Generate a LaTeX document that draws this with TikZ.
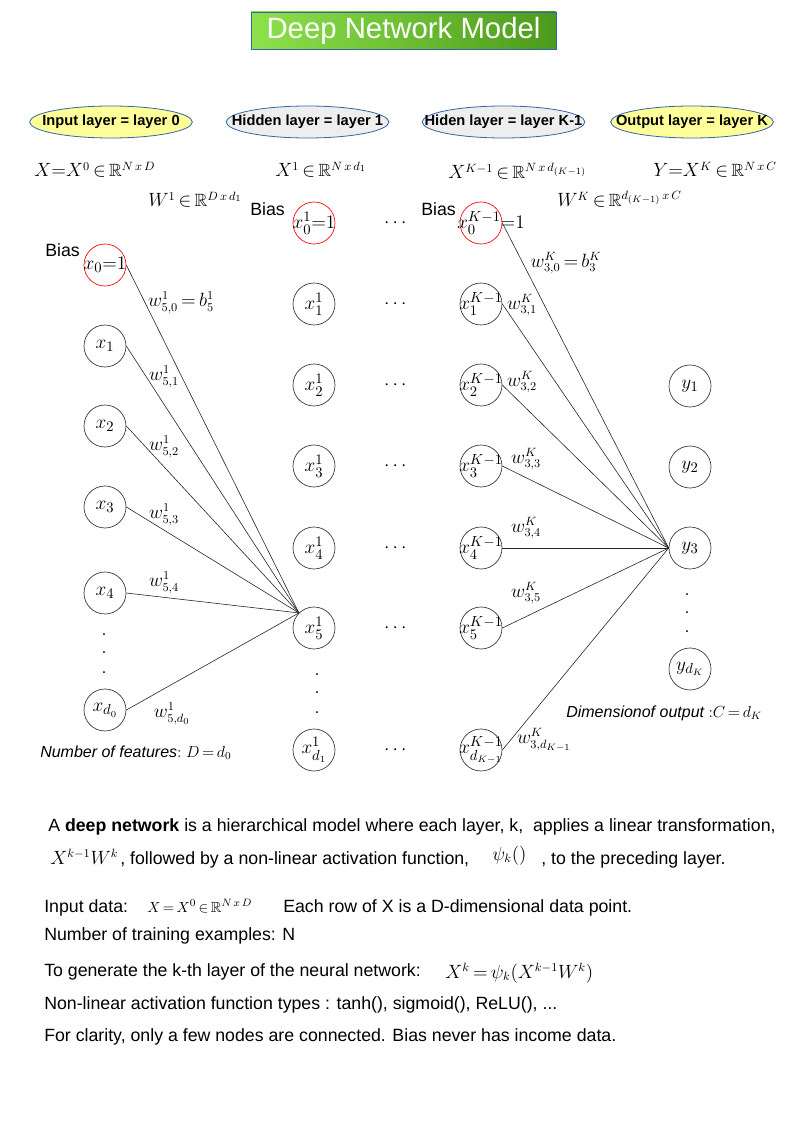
\documentclass[tikz,border=0pt]{standalone}
\usepackage{amsmath,amssymb}
\usepackage{fontspec}
\setmainfont{Liberation Sans}
\usetikzlibrary{shapes.geometric}
\definecolor{titleleft}{HTML}{8DE24B}
\definecolor{titleright}{HTML}{4C9A1C}
\definecolor{layerblue}{HTML}{3465A4}
\definecolor{layeryellow}{HTML}{FFFF99}
\definecolor{layergray}{HTML}{EEEEEE}
\begin{document}
\begin{tikzpicture}[
        x=0.75pt, y=-0.75pt,
        font=\fontsize{13.3}{16}\selectfont,
        titlebox/.style={rectangle, draw=layerblue, line width=0.6pt, left color=titleleft, right color=titleright, text=white, minimum width=228.75pt, minimum height=27.75pt, font=\fontsize{22}{26}\selectfont},
        layerbox/.style={ellipse, draw=layerblue, line width=0.6pt, minimum width=122pt, minimum height=24pt, inner sep=0pt, label={[font=\fontsize{11}{13}\selectfont\bfseries]center:{#1}}},
        inlayer/.style={layerbox={#1}, fill=layeryellow},
        hidlayer/.style={layerbox={#1}, fill=layergray},
        neuron/.style={circle, draw=black!80, line width=0.5pt, minimum size=31.5pt, inner sep=0pt},
        biasnode/.style={neuron, draw=red},
        lab/.style={label={[font=\fontsize{15}{18}\selectfont]center:{#1}}},
        link/.style={black!85, line width=0.45pt},
        formula/.style={anchor=base west, inner sep=0pt},
        weight/.style={inner sep=0pt},
        vdot/.style={inner sep=0pt, font=\fontsize{12}{14}\selectfont}
    ]
        \useasboundingbox (0,0) rectangle (794,1123);

        % Title
        \node[titlebox] (title) at (403.5,30.5) {Deep Network Model};

        % Layer names
        \node[inlayer={Input layer = layer 0}] (name_in) at (111,122) {};
        \node[hidlayer={Hidden layer = layer 1}] (name_h1) at (307.5,122) {};
        \node[hidlayer={Hiden layer = layer K-1}] (name_hk) at (503.5,122) {};
        \node[inlayer={Output layer = layer K}] (name_out) at (692,122) {};

        % Layer sizes and weight matrices
        \node[formula] (dim_in) at (34,177) {$X{=}X^0\,{\in}\,\mathbb{R}^{N\,x\,D}$};
        \node[formula] (dim_h1) at (275,177) {$X^1\,{\in}\,\mathbb{R}^{N\,x\,d_1}$};
        \node[formula] (dim_hk) at (448,179) {$X^{K-1}\,{\in}\,\mathbb{R}^{N\,x\,d_{(K-1)}}$};
        \node[formula] (dim_out) at (653,177) {$Y{=}X^K\,{\in}\,\mathbb{R}^{N\,x\,C}$};
        \node[formula] (dim_w1) at (148,207) {$W^1\,{\in}\,\mathbb{R}^{D\,x\,d_1}$};
        \node[formula] (dim_wk) at (557,207) {$W^K\,{\in}\,\mathbb{R}^{d_{(K-1)}\,x\,C}$};

        % Input layer
        \node[formula] (bias_in) at (45,257) {Bias};
        \node[biasnode, lab={$x_0{=}1$}] (in0) at (105,265) {};
        \node[neuron, lab={$x_1$}] (in1) at (105,346) {};
        \node[neuron, lab={$x_2$}] (in2) at (105,426) {};
        \node[neuron, lab={$x_3$}] (in3) at (105,507) {};
        \node[neuron, lab={$x_4$}] (in4) at (105,593) {};
        \node[vdot] (in_dot1) at (104,635) {.};
        \node[vdot] (in_dot2) at (104,653) {.};
        \node[vdot] (in_dot3) at (104,673) {.};
        \node[neuron, lab={$x_{d_0}$}] (ind) at (105,710) {};
        \node[formula] (features) at (40,757) {\fontsize{12}{14}\selectfont$\mathit{Number\ of\ features}{:}\ D\,{=}\,d_0$};

        % Hidden layer 1
        \node[formula] (bias_h1) at (250,216) {Bias};
        \node[biasnode, lab={$x^1_0{=}1$}] (h10) at (314,223) {};
        \node[neuron, lab={$x^1_1$}] (h11) at (314,304) {};
        \node[neuron, lab={$x^1_2$}] (h12) at (314,385) {};
        \node[neuron, lab={$x^1_3$}] (h13) at (314,466) {};
        \node[neuron, lab={$x^1_4$}] (h14) at (314,548) {};
        \node[neuron, lab={$x^1_5$}] (h15) at (314,628) {};
        \node[vdot] (h1_dot1) at (317,675) {.};
        \node[vdot] (h1_dot2) at (317,693) {.};
        \node[vdot] (h1_dot3) at (317,713) {.};
        \node[neuron, lab={$x^1_{d_1}$}] (h1d) at (314,750) {};

        % Layers in between
        \node (gap0) at (397,223) {$\cdots$};
        \node (gap1) at (397,304) {$\cdots$};
        \node (gap2) at (397,385) {$\cdots$};
        \node (gap3) at (397,466) {$\cdots$};
        \node (gap4) at (397,548) {$\cdots$};
        \node (gap5) at (397,628) {$\cdots$};
        \node (gapd) at (397,750) {$\cdots$};

        % Hidden layer K-1
        \node[formula] (bias_hk) at (421,216) {Bias};
        \node[biasnode, label={[font=\fontsize{15}{18}\selectfont, xshift=7.5pt]center:{$x^{K-1}_0{=}1$}}] (hk0) at (481,223) {};
        \node[neuron, lab={$x^{K-1}_1$}] (hk1) at (481,304) {};
        \node[neuron, lab={$x^{K-1}_2$}] (hk2) at (481,385) {};
        \node[neuron, lab={$x^{K-1}_3$}] (hk3) at (481,466) {};
        \node[neuron, lab={$x^{K-1}_4$}] (hk4) at (481,548) {};
        \node[neuron, lab={$x^{K-1}_5$}] (hk5) at (481,628) {};
        \node[neuron, lab={$x^{K-1}_{d_{K-1}}$}] (hkd) at (481,750) {};

        % Output layer
        \node[neuron, lab={$y_1$}] (out1) at (690,386) {};
        \node[neuron, lab={$y_2$}] (out2) at (690,467) {};
        \node[neuron, lab={$y_3$}] (out3) at (690,548) {};
        \node[vdot] (out_dot1) at (687,595) {.};
        \node[vdot] (out_dot2) at (687,613) {.};
        \node[vdot] (out_dot3) at (687,632) {.};
        \node[neuron, lab={$y_{d_K}$}] (outd) at (690,669) {};
        \node[formula] (outputs) at (566,717) {\fontsize{12}{14}\selectfont$\mathit{Dimensionof\ output}\ {:}C\,{=}\,d_K$};

        % Weights into x^1_5
        \draw[link] (in0.east) -- (h15.135);
        \draw[link] (in1.east) -- (h15.135);
        \draw[link] (in2.east) -- (h15.135);
        \draw[link] (in3.east) -- (h15.135);
        \draw[link] (in4.east) -- (h15.135);
        \draw[link] (ind.east) -- (h15.135);
        \node[weight] (w10) at (181,303) {$w^1_{5,0}\,{=}\,b^1_5$};
        \node[weight] (w11) at (164,377) {$w^1_{5,1}$};
        \node[weight] (w12) at (164,447) {$w^1_{5,2}$};
        \node[weight] (w13) at (164,515) {$w^1_{5,3}$};
        \node[weight] (w14) at (164,583) {$w^1_{5,4}$};
        \node[weight] (w1d) at (172,714) {$w^1_{5,d_0}$};

        % Weights into y_3
        \draw[link] (hk0.east) -- (out3.west);
        \draw[link] (hk1.east) -- (out3.west);
        \draw[link] (hk2.east) -- (out3.west);
        \draw[link] (hk3.east) -- (out3.west);
        \draw[link] (hk4.east) -- (out3.west);
        \draw[link] (hk5.east) -- (out3.west);
        \draw[link] (hkd.east) -- (out3.west);
        \node[weight] (wk0) at (566,263) {$w^K_{3,0}\,{=}\,b^K_3$};
        \node[weight] (wk1) at (522,305) {$w^K_{3,1}$};
        \node[weight] (wk2) at (522,382) {$w^K_{3,2}$};
        \node[weight] (wk3) at (526,459) {$w^K_{3,3}$};
        \node[weight] (wk4) at (526,528) {$w^K_{3,4}$};
        \node[weight] (wk5) at (526,593) {$w^K_{3,5}$};
        \node[weight] (wkd) at (544,740) {$w^K_{3,d_{K-1}}$};

        % Notes
        \node[formula] (note1) at (48,831) {A \textbf{deep network} is a hierarchical model where each layer, k,\ \ applies a linear transformation,};
        \node[formula] (note2a) at (50,864) {$X^{k-1}W^k$};
        \node[formula] (note2b) at (120,864) {, followed by a non-linear activation function,};
        \node[formula] (note2c) at (492,860) {$\psi_k()$};
        \node[formula] (note2d) at (541,864) {, to the preceding layer.};
        \node[formula] (note3a) at (44,912) {Input data:};
        \node[formula] (note3b) at (147,912) {\fontsize{11}{13}\selectfont$X\,{=}\,X^0\,{\in}\,\mathbb{R}^{N\,x\,D}$};
        \node[formula] (note3c) at (283,912) {Each row of X is a D-dimensional data point.};
        \node[formula] (note4) at (44,940) {Number of training examples: N};
        \node[formula] (note5a) at (44,976) {To generate the k-th layer of the neural network:};
        \node[formula] (note5b) at (445,978) {$X^k\,{=}\,\psi_k(X^{k-1}W^k)$};
        \node[formula] (note6) at (44,1009) {Non-linear activation function types : tanh(), sigmoid(), ReLU(), ...};
        \node[formula] (note7) at (44,1041) {For clarity, only a few nodes are connected. Bias never has income data.};
    \end{tikzpicture}
\end{document}
